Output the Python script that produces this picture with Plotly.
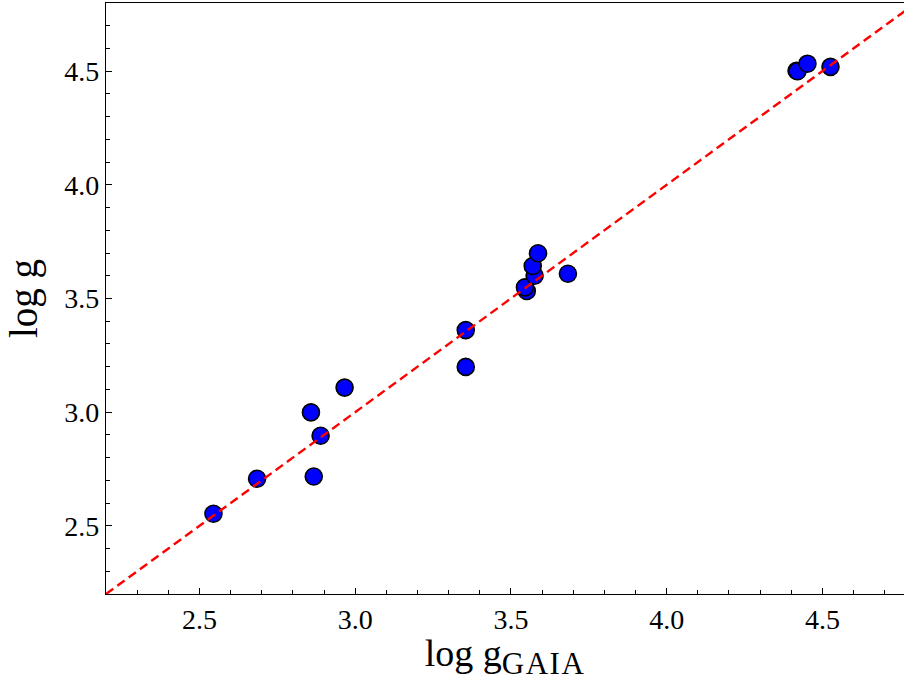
import plotly.graph_objects as go

# Data
logg_gaia = [2.545, 2.685, 2.858, 2.889, 2.867, 2.966, 3.355, 3.355,
             3.551, 3.545, 3.576, 3.570, 3.587, 3.683, 4.417, 4.420, 4.452, 4.526]
logg_spec = [2.553, 2.707, 2.999, 2.896, 2.717, 3.108, 3.361, 3.199,
             3.533, 3.549, 3.600, 3.643, 3.699, 3.609, 4.502, 4.500, 4.533, 4.519]
one_to_one = [2.2, 4.8]

x_range = [2.2, 4.762]
y_range = [2.2, 4.8]
tick_vals = [2.5, 3.0, 3.5, 4.0, 4.5]
tick_text = ["2.5", "3.0", "3.5", "4.0", "4.5"]

font_family = "Liberation Serif"

fig = go.Figure()
fig.add_trace(go.Scatter(
    x=logg_gaia, y=logg_spec, mode="markers",
    marker=dict(size=17, color="#0000ff", line=dict(color="black", width=1.6)),
    showlegend=False, cliponaxis=False,
))
fig.add_trace(go.Scatter(
    x=one_to_one, y=one_to_one, mode="lines",
    line=dict(color="#ff0000", width=2.4, dash="9px,5px"),
    showlegend=False,
))

axis_common = dict(
    showgrid=False, zeroline=False,
    showline=True, linecolor="black", linewidth=1.3,
    ticks="inside", ticklen=6, tickwidth=1.2, tickcolor="black",
    tickvals=tick_vals, ticktext=tick_text,
    tickfont=dict(family=font_family, size=28, color="black"),
    minor=dict(ticks="inside", dtick=0.1, ticklen=3.5, tickwidth=1, tickcolor="black", showgrid=False),
)

fig.update_xaxes(
    range=x_range, mirror=True,
    title=dict(text="log g<sub><span style=\"font-size:31px;letter-spacing:1.5px\">GAIA</span></sub>",
               font=dict(family=font_family, size=38, color="black"), standoff=2),
    **axis_common,
)
fig.update_yaxes(
    range=y_range, mirror=False,
    title=dict(text="log g", font=dict(family=font_family, size=39, color="black"), standoff=14),
    **axis_common,
)

fig.update_layout(
    width=904, height=681,
    margin=dict(l=106, r=0, t=3, b=87),
    paper_bgcolor="white", plot_bgcolor="white",
)

fig.write_html("out.html")
